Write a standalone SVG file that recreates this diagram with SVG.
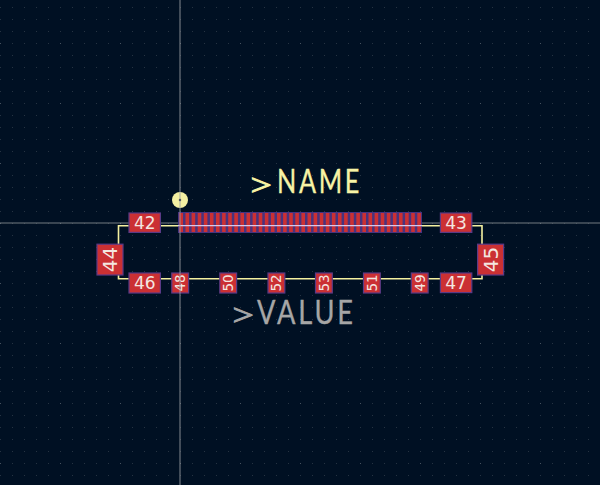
<svg xmlns="http://www.w3.org/2000/svg" width="600" height="485" viewBox="0 0 600 485">
<style>
.pad{fill:#cb3033;stroke:#5a3a86;stroke-width:1.2}
.band{fill:#48337f}
.num{fill:#f3e6e0;font-family:"DejaVu Sans",sans-serif;text-anchor:middle}
.edge{fill:none;stroke:#f4f0a0;stroke-width:1.6}
.seen{stroke:#d9c8ea;stroke-width:1.2}
.axis{stroke:#9a9da2;stroke-width:1}
.t{font-family:"Lato","Liberation Sans",sans-serif;font-size:33px}
.g{font-size:36px;font-weight:300}
.w{letter-spacing:3.5px;stroke-width:0.35px}
</style>
<defs>
<pattern id="grid" width="12" height="12" patternUnits="userSpaceOnUse" x="0" y="7">
<rect width="1" height="1" fill="#263342"/>
</pattern>
<pattern id="major" width="60" height="60" patternUnits="userSpaceOnUse" x="0" y="43">
<rect width="1" height="1" fill="#46525f"/>
</pattern>
</defs>
<rect width="600" height="485" fill="#001023"/>
<rect width="600" height="485" fill="url(#grid)"/>
<rect width="600" height="485" fill="url(#major)"/>
<g id="connectors">
<path class="edge" d="M178 225.7H118.5V278.8H482V225.7H422"/>
<path class="axis" d="M0 223H600" stroke-opacity="0.75"/>
</g>
<g id="fine-pads">
<rect class="band" x="178" y="212" width="244" height="21"/>
<g fill="#cb3033">
<path d="M179.4 213h3.6v19h-3.6zM185.5 213h3.6v19h-3.6zM191.6 213h3.6v19h-3.6zM197.7 213h3.6v19h-3.6zM203.8 213h3.6v19h-3.6zM209.9 213h3.6v19h-3.6zM216 213h3.6v19h-3.6zM222.1 213h3.6v19h-3.6zM228.2 213h3.6v19h-3.6zM234.3 213h3.6v19h-3.6zM240.4 213h3.6v19h-3.6zM246.5 213h3.6v19h-3.6zM252.6 213h3.6v19h-3.6zM258.7 213h3.6v19h-3.6zM264.8 213h3.6v19h-3.6zM270.9 213h3.6v19h-3.6zM277 213h3.6v19h-3.6zM283.1 213h3.6v19h-3.6zM289.2 213h3.6v19h-3.6zM295.3 213h3.6v19h-3.6zM301.4 213h3.6v19h-3.6zM307.5 213h3.6v19h-3.6zM313.6 213h3.6v19h-3.6zM319.7 213h3.6v19h-3.6zM325.8 213h3.6v19h-3.6zM331.9 213h3.6v19h-3.6zM338 213h3.6v19h-3.6zM344.1 213h3.6v19h-3.6zM350.2 213h3.6v19h-3.6zM356.3 213h3.6v19h-3.6zM362.4 213h3.6v19h-3.6zM368.5 213h3.6v19h-3.6zM374.6 213h3.6v19h-3.6zM380.7 213h3.6v19h-3.6zM386.8 213h3.6v19h-3.6zM392.9 213h3.6v19h-3.6zM399 213h3.6v19h-3.6zM405.1 213h3.6v19h-3.6zM411.2 213h3.6v19h-3.6zM417.3 213h3.6v19h-3.6z"/>
</g>
<path class="seen" d="M178 225.7H422"/>
</g>
<g id="p42"><rect class="pad" x="129" y="213" width="31.4" height="19.4"/><text class="num" x="144.7" y="229" font-size="17">42</text></g>
<g id="p43"><rect class="pad" x="440.4" y="213" width="31.4" height="19.4"/><text class="num" x="456" y="229" font-size="17">43</text></g>
<g id="p46"><rect class="pad" x="129" y="273" width="31.4" height="20"/><text class="num" x="144.7" y="289.3" font-size="17">46</text></g>
<g id="p47"><rect class="pad" x="440.4" y="273" width="31.4" height="19.6"/><text class="num" x="456" y="289" font-size="17">47</text></g>
<g id="p44"><rect class="pad" x="97" y="244.2" width="26" height="30.8"/><text class="num" font-size="20" transform="translate(116.5 259.6) rotate(-90)">44</text></g>
<g id="p45"><rect class="pad" x="477.6" y="244.2" width="26" height="30.8"/><text class="num" font-size="20" transform="translate(498 259.6) rotate(-90)">45</text></g>
<g id="p48"><rect class="pad" x="171.8" y="273" width="16.8" height="20"/><text class="num" font-size="13.5" transform="translate(185 283) rotate(-90)">48</text></g>
<g id="p50"><rect class="pad" x="219.8" y="273" width="16.8" height="20"/><text class="num" font-size="13.5" transform="translate(233 283) rotate(-90)">50</text></g>
<g id="p52"><rect class="pad" x="268" y="273" width="16.8" height="20"/><text class="num" font-size="13.5" transform="translate(281.2 283) rotate(-90)">52</text></g>
<g id="p53"><rect class="pad" x="315.5" y="273" width="16.8" height="20"/><text class="num" font-size="13.5" transform="translate(328.7 283) rotate(-90)">53</text></g>
<g id="p51"><rect class="pad" x="363.5" y="273" width="16.8" height="20"/><text class="num" font-size="13.5" transform="translate(376.7 283) rotate(-90)">51</text></g>
<g id="p49"><rect class="pad" x="411.3" y="273" width="16.8" height="20"/><text class="num" font-size="13.5" transform="translate(424.5 283) rotate(-90)">49</text></g>
<g id="origin"><circle cx="180" cy="200" r="8" fill="#f3efa2"/><circle cx="180" cy="200" r="1.2" fill="#1a2030"/></g>
<path class="axis" d="M180 0V485" stroke-opacity="0.85"/>
<text class="t" fill="#f7f3a5" stroke="#f7f3a5"><tspan class="g" x="247" y="196.5" textLength="27" lengthAdjust="spacingAndGlyphs">&gt;</tspan><tspan class="w" x="277" y="193" textLength="85" lengthAdjust="spacingAndGlyphs">NAME</tspan></text>
<text class="t" fill="#a6a6a6" stroke="#a6a6a6"><tspan class="g" x="229" y="326.5" textLength="27" lengthAdjust="spacingAndGlyphs">&gt;</tspan><tspan class="w" x="257" y="324" textLength="99" lengthAdjust="spacingAndGlyphs">VALUE</tspan></text>
</svg>
